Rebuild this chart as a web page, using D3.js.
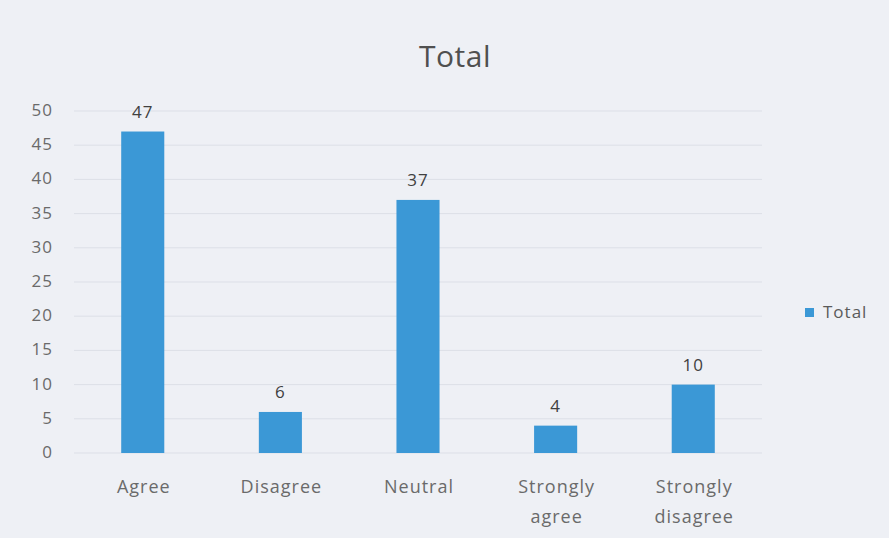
<!DOCTYPE html>
<html><head><meta charset="utf-8">
<script src="https://cdn.jsdelivr.net/npm/d3@7"></script>
<style>
body{margin:0;background:#eceef3;}
text{font-family:"Open Sans",sans-serif;}
</style></head>
<body><svg id="c" width="889" height="538"></svg>
<script>
const categories = ["Agree","Disagree","Neutral","Strongly agree","Strongly disagree"];
const totals = [47,6,37,4,10];
const yTicks = [0,5,10,15,20,25,30,35,40,45,50];
const seriesName = "Total";

(function(){
const svg = d3.select("#c");
svg.append("rect").attr("width",889).attr("height",538).attr("fill","#eef0f5");
const pl=74, pr=762, pt=111, pb=453;
const x = d3.scaleBand().domain(categories).range([pl,pr]).paddingInner(0.687).paddingOuter(0.343);
const y = d3.scaleLinear().domain([0,50]).range([pb,pt]);

svg.append("g").selectAll("line").data(yTicks).join("line")
  .attr("x1",pl).attr("x2",pr)
  .attr("y1",d=>y(d)).attr("y2",d=>y(d))
  .attr("stroke","#dcdfe7").attr("stroke-width",1);

const yAxis = svg.append("g").attr("transform",`translate(53,-1)`)
  .call(d3.axisLeft(y).tickValues(yTicks).tickSize(0).tickPadding(0));
yAxis.select(".domain").remove();
yAxis.selectAll("text").attr("font-size",17).attr("letter-spacing","1px")
  .attr("fill","#6a6a6a").attr("font-family","Open Sans");

svg.append("g").selectAll("rect").data(categories).join("rect")
  .attr("x",d=>x(d)).attr("width",x.bandwidth())
  .attr("y",(d,i)=>y(totals[i])).attr("height",(d,i)=>pb-y(totals[i]))
  .attr("fill","#3b98d6");

svg.append("g").selectAll("text").data(categories).join("text")
  .attr("x",d=>x(d)+x.bandwidth()/2).attr("y",(d,i)=>y(totals[i])-14)
  .attr("text-anchor","middle").attr("font-size",17).attr("letter-spacing","1px").attr("fill","#404040")
  .text((d,i)=>totals[i]);

const xl = svg.append("g").selectAll("text").data(categories).join("text")
  .attr("x",d=>x(d)+x.bandwidth()/2+1).attr("y",493)
  .attr("text-anchor","middle").attr("font-size",18).attr("letter-spacing","1px").attr("fill","#6a6a6a");
xl.each(function(d){
  const words = d.split(" ");
  const t = d3.select(this);
  words.forEach((w,i)=>t.append("tspan").attr("x",t.attr("x")).attr("dy",i?30:0).text(w));
});

svg.append("text").attr("x",455).attr("y",67).attr("text-anchor","middle")
  .attr("font-size",30).attr("letter-spacing","0.5px").attr("fill","#505050").text("Total");

svg.append("rect").attr("x",805).attr("y",308).attr("width",9).attr("height",9).attr("fill","#3b98d6");
svg.append("text").attr("x",823).attr("y",318).attr("font-size",17).attr("letter-spacing","1px").attr("fill","#5a5a5a").text(seriesName);
})();
</script></body></html>
